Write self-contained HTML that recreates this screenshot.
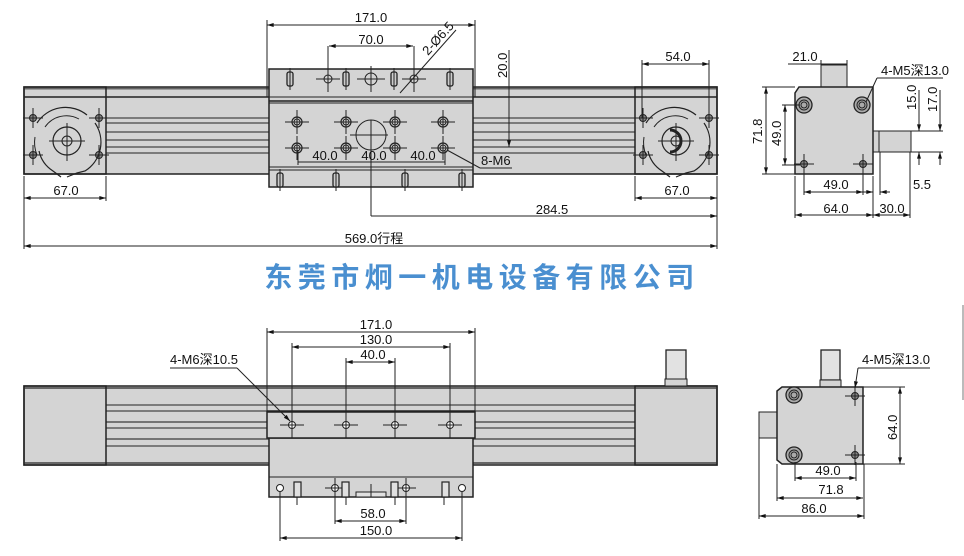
<!DOCTYPE html>
<html><head><meta charset="utf-8"><style>
html,body{margin:0;padding:0;background:#fff;}
svg{display:block;}
text{font-family:"Liberation Sans","Noto Sans CJK SC",sans-serif;font-size:13px;fill:#111;}
</style></head><body>
<svg width="964" height="556" viewBox="0 0 964 556" xmlns="http://www.w3.org/2000/svg">
<defs>
<marker id="a" viewBox="0 0 10 6" refX="10" refY="3" markerWidth="10" markerHeight="4" orient="auto-start-reverse" markerUnits="userSpaceOnUse"><path d="M0,0 L10,3 L0,6z" fill="#111"/></marker>
<g id="hole"><circle r="5" fill="none" stroke="#222" stroke-width="1.2"/><circle r="3" fill="none" stroke="#222" stroke-width="1"/><line x1="-12" y1="0" x2="12" y2="0" stroke="#222"/><line x1="0" y1="-12" x2="0" y2="12" stroke="#222"/></g>
<g id="ehole"><circle r="3.5" fill="#888" stroke="#222"/><line x1="-10" y1="0" x2="10" y2="0" stroke="#222"/><line x1="0" y1="-10" x2="0" y2="10" stroke="#222"/></g>
<g id="pin"><rect x="-3" y="0" width="6" height="14" rx="2" fill="#ccc" stroke="#222" stroke-width="1.3"/><line x1="0" y1="-4" x2="0" y2="18" stroke="#222"/></g>
<g id="disc"><path d="M-30,-18 A34,34 0 0 1 20,-26" fill="none" stroke="#222" stroke-width="1.2"/><path d="M-22,-14 A26,26 0 0 1 12,-22" fill="none" stroke="#222"/><path d="M28,-18 A34,34 0 0 1 18,30 L10,32 L0,36" fill="none" stroke="#222" stroke-width="1.2"/><path d="M-28,10 A32,32 0 0 0 -14,30 L-6,36" fill="none" stroke="#222" stroke-width="1.2"/><path d="M-32,-4 A33,33 0 0 0 -30,14" fill="none" stroke="#222"/><circle r="14" fill="none" stroke="#222" stroke-width="1.2"/><circle r="5" fill="none" stroke="#222"/><line x1="-18" y1="0" x2="18" y2="0" stroke="#222"/><line x1="0" y1="-18" x2="0" y2="20" stroke="#222"/></g>
<g id="bighole"><circle r="8" fill="#aaa" stroke="#222" stroke-width="1.3"/><circle r="5" fill="none" stroke="#222"/><circle r="3" fill="none" stroke="#222"/></g>
</defs>
<g stroke="#222" stroke-width="1" fill="none">
<rect x="24" y="87" width="693" height="87" fill="#d4d4d4" stroke-width="1.5"/>
<line x1="24" y1="88.5" x2="717" y2="88.5" stroke="#666" stroke-width="2"/>
<line x1="24" y1="97" x2="717" y2="97" stroke-width="1.6"/>
<line x1="106" y1="118" x2="635" y2="118"/><line x1="106" y1="123" x2="635" y2="123"/>
<line x1="106" y1="132" x2="635" y2="132"/><line x1="106" y1="140" x2="635" y2="140"/>
<line x1="106" y1="147" x2="635" y2="147"/><line x1="106" y1="153" x2="635" y2="153"/>
<rect x="24" y="87" width="82" height="87" stroke-width="1.5"/>
<rect x="635" y="87" width="82" height="87" stroke-width="1.5"/>
<use href="#ehole" x="33" y="118"/><use href="#ehole" x="99" y="118"/><use href="#ehole" x="33" y="155"/><use href="#ehole" x="99" y="155"/>
<use href="#ehole" x="643" y="118"/><use href="#ehole" x="709" y="118"/><use href="#ehole" x="643" y="155"/><use href="#ehole" x="709" y="155"/>
<use href="#disc" x="67" y="141"/><use href="#disc" x="676" y="141"/>
<path d="M670,130 A10,10 0 1 1 670,152" stroke-width="3"/>
<rect x="269" y="69" width="204" height="118" fill="#d4d4d4" stroke-width="1.5"/>
<line x1="269" y1="97" x2="473" y2="97"/><line x1="269" y1="101" x2="473" y2="101" stroke-width="1.5"/><line x1="269" y1="103" x2="473" y2="103"/>
<line x1="269" y1="167" x2="473" y2="167"/><line x1="269" y1="170" x2="473" y2="170"/>
<use href="#pin" x="290" y="72"/><use href="#pin" x="346" y="72"/><use href="#pin" x="394" y="72"/><use href="#pin" x="450" y="72"/>
<use href="#pin" x="280" y="173"/><use href="#pin" x="336" y="173"/><use href="#pin" x="405" y="173"/><use href="#pin" x="462" y="173"/>
<circle cx="328" cy="79" r="4"/><line x1="316" y1="79" x2="340" y2="79"/><line x1="328" y1="46" x2="328" y2="92"/>
<circle cx="371" cy="79" r="6"/><line x1="357" y1="79" x2="385" y2="79"/><line x1="371" y1="66" x2="371" y2="92"/>
<circle cx="414" cy="79" r="4"/><line x1="402" y1="79" x2="426" y2="79"/><line x1="414" y1="46" x2="414" y2="92"/>
<use href="#hole" x="297" y="122"/><use href="#hole" x="346" y="122"/><use href="#hole" x="395" y="122"/><use href="#hole" x="443" y="122"/>
<use href="#hole" x="297" y="148"/><use href="#hole" x="346" y="148"/><use href="#hole" x="395" y="148"/><use href="#hole" x="443" y="148"/>
<circle cx="371" cy="135" r="15"/><line x1="350" y1="135" x2="388" y2="135"/><line x1="371" y1="120" x2="371" y2="216"/>
<line x1="267" y1="20" x2="267" y2="97"/><line x1="475" y1="20" x2="475" y2="97"/>
<line x1="267" y1="25" x2="475" y2="25" marker-start="url(#a)" marker-end="url(#a)"/>
<line x1="329" y1="46" x2="413" y2="46" marker-start="url(#a)" marker-end="url(#a)"/>
<line x1="400" y1="93" x2="456" y2="30"/>
<line x1="475" y1="87" x2="515" y2="87"/><line x1="478" y1="147" x2="515" y2="147"/>
<line x1="509" y1="50" x2="509" y2="147" marker-end="url(#a)"/>
<line x1="298" y1="162" x2="445" y2="162"/>
<line x1="298" y1="150" x2="298" y2="165"/><line x1="445" y1="150" x2="445" y2="165"/>
<line x1="480" y1="168" x2="512" y2="168"/><line x1="480" y1="168" x2="447" y2="150"/>
<line x1="371" y1="216" x2="717" y2="216" marker-end="url(#a)"/>
<line x1="24" y1="176" x2="24" y2="249"/><line x1="717" y1="176" x2="717" y2="249"/>
<line x1="106" y1="176" x2="106" y2="201"/><line x1="635" y1="176" x2="635" y2="201"/>
<line x1="24" y1="246" x2="717" y2="246" marker-start="url(#a)" marker-end="url(#a)"/>
<line x1="24" y1="198" x2="106" y2="198" marker-start="url(#a)" marker-end="url(#a)"/>
<line x1="635" y1="198" x2="717" y2="198" marker-start="url(#a)" marker-end="url(#a)"/>
<line x1="642" y1="60" x2="642" y2="118"/><line x1="709" y1="60" x2="709" y2="118"/>
<line x1="642" y1="64" x2="709" y2="64" marker-start="url(#a)" marker-end="url(#a)"/>
<rect x="821" y="65" width="26" height="22" fill="#d4d4d4"/>
<rect x="873" y="131" width="38" height="21" fill="#d4d4d4"/>
<line x1="879" y1="131" x2="879" y2="152"/>
<path d="M799,87 L873,87 L873,174 L795,174 L795,93 Z" fill="#d4d4d4" stroke-width="1.5"/>
<use href="#bighole" x="804" y="105"/><use href="#bighole" x="862" y="105"/>
<use href="#ehole" x="804" y="164"/><use href="#ehole" x="863" y="164"/>
<line x1="788" y1="64" x2="847" y2="64"/><line x1="821" y1="60" x2="821" y2="65"/><line x1="847" y1="60" x2="847" y2="65"/>
<line x1="877" y1="78" x2="943" y2="78"/><line x1="877" y1="78" x2="866" y2="102"/>
<line x1="762" y1="87" x2="795" y2="87"/><line x1="762" y1="174" x2="795" y2="174"/>
<line x1="766" y1="87" x2="766" y2="174" marker-start="url(#a)" marker-end="url(#a)"/>
<line x1="782" y1="105" x2="800" y2="105"/><line x1="782" y1="165" x2="800" y2="165"/>
<line x1="785" y1="105" x2="785" y2="165" marker-start="url(#a)" marker-end="url(#a)"/>
<line x1="911" y1="131" x2="943" y2="131"/><line x1="911" y1="152" x2="943" y2="152"/>
<line x1="919" y1="90" x2="919" y2="131" marker-end="url(#a)"/><line x1="919" y1="152" x2="919" y2="165" marker-start="url(#a)"/>
<line x1="940" y1="90" x2="940" y2="131" marker-end="url(#a)"/><line x1="940" y1="152" x2="940" y2="165" marker-start="url(#a)"/>
<line x1="795" y1="176" x2="795" y2="218"/><line x1="873" y1="176" x2="873" y2="218"/><line x1="880" y1="152" x2="880" y2="195"/><line x1="910" y1="152" x2="910" y2="218"/>
<line x1="804" y1="168" x2="804" y2="195"/><line x1="863" y1="168" x2="863" y2="195"/>
<line x1="804" y1="192" x2="863" y2="192" marker-start="url(#a)" marker-end="url(#a)"/>
<line x1="863" y1="192" x2="873" y2="192" marker-end="url(#a)"/><line x1="880" y1="192" x2="890" y2="192" marker-start="url(#a)"/>
<line x1="795" y1="215" x2="873" y2="215" marker-start="url(#a)" marker-end="url(#a)"/>
<line x1="873" y1="215" x2="910" y2="215" marker-start="url(#a)" marker-end="url(#a)"/>
<rect x="24" y="386" width="693" height="79" fill="#d4d4d4" stroke-width="1.5"/>
<line x1="24" y1="388" x2="717" y2="388" stroke="#666" stroke-width="2"/>
<line x1="24" y1="463" x2="717" y2="463" stroke="#666" stroke-width="2"/>
<line x1="106" y1="405" x2="635" y2="405"/><line x1="106" y1="411" x2="635" y2="411"/>
<line x1="106" y1="422" x2="635" y2="422" stroke="#555" stroke-width="1.5"/><line x1="106" y1="428" x2="635" y2="428"/>
<line x1="106" y1="439" x2="635" y2="439" stroke="#555" stroke-width="1.5"/><line x1="106" y1="446" x2="635" y2="446"/>
<rect x="24" y="386" width="82" height="79" stroke-width="1.5"/>
<rect x="635" y="386" width="82" height="79" stroke-width="1.5"/>
<rect x="666" y="350" width="20" height="30" fill="#e2e2e2" stroke-width="1.3"/>
<rect x="665" y="379" width="22" height="7" fill="#d4d4d4"/>
<rect x="269" y="438" width="204" height="59" fill="#d4d4d4" stroke-width="1.5"/>
<line x1="269" y1="477" x2="473" y2="477"/>
<rect x="267" y="412" width="208" height="26" fill="#d4d4d4" stroke-width="1.5"/>
<line x1="267" y1="411" x2="475" y2="411" stroke-width="1.5"/>
<g fill="#fff"><circle cx="292" cy="425" r="3.5"/><circle cx="346" cy="425" r="3.5"/><circle cx="395" cy="425" r="3.5"/><circle cx="450" cy="425" r="3.5"/></g>
<line x1="280" y1="425" x2="304" y2="425"/><line x1="334" y1="425" x2="358" y2="425"/><line x1="383" y1="425" x2="407" y2="425"/><line x1="438" y1="425" x2="462" y2="425"/>
<line x1="267" y1="328" x2="267" y2="412"/><line x1="475" y1="328" x2="475" y2="412"/>
<line x1="292" y1="343" x2="292" y2="438"/><line x1="450" y1="343" x2="450" y2="438"/>
<line x1="346" y1="358" x2="346" y2="438"/><line x1="395" y1="358" x2="395" y2="438"/>
<line x1="267" y1="332" x2="475" y2="332" marker-start="url(#a)" marker-end="url(#a)"/>
<line x1="292" y1="347" x2="450" y2="347" marker-start="url(#a)" marker-end="url(#a)"/>
<line x1="346" y1="362" x2="395" y2="362" marker-start="url(#a)" marker-end="url(#a)"/>
<line x1="170" y1="368" x2="237" y2="368"/><line x1="237" y1="368" x2="290" y2="421" marker-end="url(#a)"/>
<g fill="#fff"><circle cx="280" cy="488" r="3.5"/><circle cx="335" cy="488" r="3.5"/><circle cx="406" cy="488" r="3.5"/><circle cx="462" cy="488" r="3.5"/></g>
<line x1="325" y1="488" x2="345" y2="488"/><line x1="396" y1="488" x2="416" y2="488"/>
<g fill="#e0e0e0" stroke-width="1.2"><rect x="294" y="482" width="7" height="15"/><rect x="342" y="482" width="7" height="15"/><rect x="391" y="482" width="7" height="15"/><rect x="442" y="482" width="7" height="15"/></g>
<rect x="356" y="492" width="30" height="5" fill="#e0e0e0"/>
<line x1="371" y1="484" x2="371" y2="497"/>
<line x1="280" y1="492" x2="280" y2="541"/><line x1="462" y1="492" x2="462" y2="541"/>
<line x1="335" y1="478" x2="335" y2="524"/><line x1="406" y1="478" x2="406" y2="524"/>
<line x1="297" y1="497" x2="297" y2="505"/><line x1="346" y1="497" x2="346" y2="505"/><line x1="395" y1="497" x2="395" y2="505"/><line x1="444" y1="497" x2="444" y2="505"/>
<line x1="335" y1="521" x2="406" y2="521" marker-start="url(#a)" marker-end="url(#a)"/>
<line x1="280" y1="538" x2="462" y2="538" marker-start="url(#a)" marker-end="url(#a)"/>
<rect x="821" y="350" width="19" height="30" fill="#e2e2e2" stroke-width="1.3"/>
<rect x="820" y="380" width="21" height="7" fill="#d4d4d4"/>
<rect x="759" y="412" width="18" height="26" fill="#d4d4d4"/>
<path d="M782,387 L863,387 L863,464 L782,464 L777,460 L777,391 Z" fill="#d4d4d4" stroke-width="1.5"/>
<use href="#bighole" x="794" y="395"/><use href="#bighole" x="794" y="455"/>
<use href="#ehole" x="855" y="396"/><use href="#ehole" x="855" y="455"/>
<line x1="858" y1="368" x2="930" y2="368"/><line x1="858" y1="368" x2="855" y2="388" marker-end="url(#a)"/>
<line x1="863" y1="387" x2="905" y2="387"/><line x1="863" y1="464" x2="905" y2="464"/>
<line x1="900" y1="387" x2="900" y2="464" marker-start="url(#a)" marker-end="url(#a)"/>
<line x1="795" y1="462" x2="795" y2="481"/><line x1="856" y1="462" x2="856" y2="481"/>
<line x1="777" y1="464" x2="777" y2="501"/><line x1="864" y1="464" x2="864" y2="519"/><line x1="759" y1="438" x2="759" y2="519"/>
<line x1="795" y1="478" x2="856" y2="478" marker-start="url(#a)" marker-end="url(#a)"/>
<line x1="777" y1="498" x2="863" y2="498" marker-start="url(#a)" marker-end="url(#a)"/>
<line x1="759" y1="516" x2="864" y2="516" marker-start="url(#a)" marker-end="url(#a)"/>
<line x1="963" y1="305" x2="963" y2="400" stroke="#bbb" stroke-width="2"/>
</g>
<g>
<text x="371" y="22" text-anchor="middle">171.0</text>
<text x="371" y="44" text-anchor="middle">70.0</text>
<text x="0" y="0" transform="translate(428,56) rotate(-48)">2-Ø6.5</text>
<text x="0" y="0" transform="translate(507,78) rotate(-90)">20.0</text>
<text x="325" y="160" text-anchor="middle">40.0</text>
<text x="374" y="160" text-anchor="middle">40.0</text>
<text x="423" y="160" text-anchor="middle">40.0</text>
<text x="481" y="165">8-M6</text>
<text x="552" y="214" text-anchor="middle">284.5</text>
<text x="374" y="243" text-anchor="middle">569.0行程</text>
<text x="66" y="195" text-anchor="middle">67.0</text>
<text x="677" y="195" text-anchor="middle">67.0</text>
<text x="678" y="61" text-anchor="middle">54.0</text>
<text x="805" y="61" text-anchor="middle">21.0</text>
<text x="881" y="75">4-M5深13.0</text>
<text x="0" y="0" transform="translate(762,144) rotate(-90)">71.8</text>
<text x="0" y="0" transform="translate(781,146) rotate(-90)">49.0</text>
<text x="0" y="0" transform="translate(916,110) rotate(-90)">15.0</text>
<text x="0" y="0" transform="translate(937,112) rotate(-90)">17.0</text>
<text x="836" y="189" text-anchor="middle">49.0</text>
<text x="922" y="189" text-anchor="middle">5.5</text>
<text x="836" y="213" text-anchor="middle">64.0</text>
<text x="892" y="213" text-anchor="middle">30.0</text>
<text x="482" y="287" text-anchor="middle" style="font-family:'Noto Sans CJK SC','WenQuanYi Zen Hei',sans-serif;font-size:28px;font-weight:bold;fill:#4a8fd0;letter-spacing:5.5px">东莞市炯一机电设备有限公司</text>
<text x="376" y="329" text-anchor="middle">171.0</text>
<text x="376" y="344" text-anchor="middle">130.0</text>
<text x="373" y="359" text-anchor="middle">40.0</text>
<text x="170" y="364">4-M6深10.5</text>
<text x="373" y="518" text-anchor="middle">58.0</text>
<text x="376" y="535" text-anchor="middle">150.0</text>
<text x="862" y="364">4-M5深13.0</text>
<text x="0" y="0" transform="translate(897,440) rotate(-90)">64.0</text>
<text x="828" y="475" text-anchor="middle">49.0</text>
<text x="831" y="494" text-anchor="middle">71.8</text>
<text x="814" y="513" text-anchor="middle">86.0</text>
</g>
</svg>
</body></html>
